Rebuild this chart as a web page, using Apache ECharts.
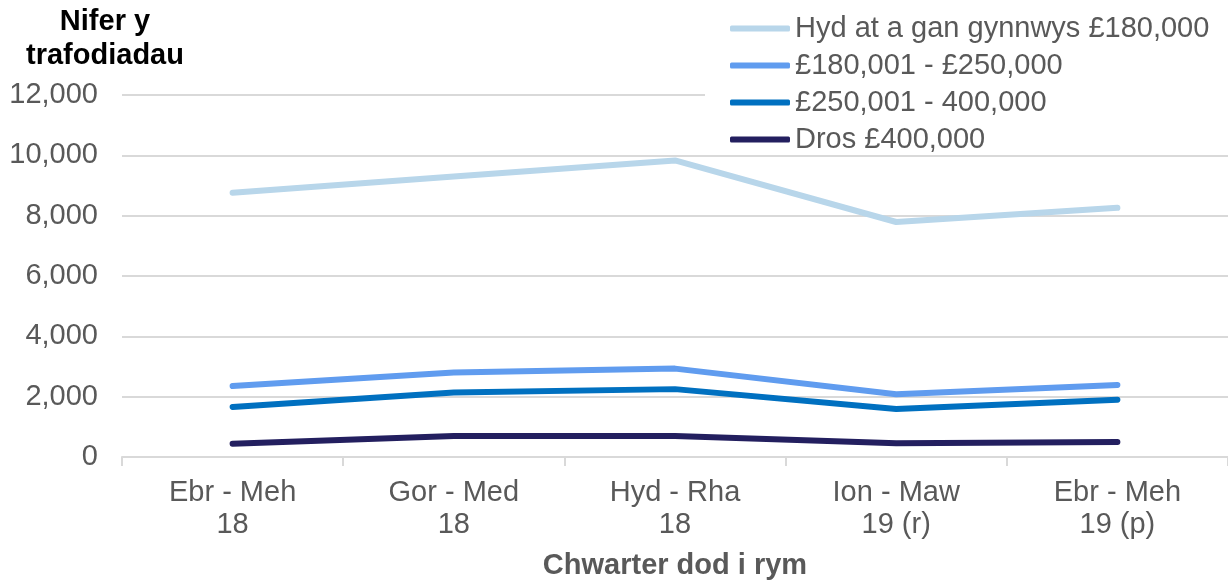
<!DOCTYPE html>
<html>
<head>
<meta charset="utf-8">
<script src="https://cdn.jsdelivr.net/npm/echarts@6/dist/echarts.min.js"></script>
<style>
  html, body { margin: 0; padding: 0; background: #fff; }
  #chart { width: 1228px; height: 582px; }
</style>
</head>
<body>
<div id="chart"></div>
<script>
// chwarteri
var quarters = ['Ebr - Meh\n18', 'Gor - Med\n18', 'Hyd - Rha\n18', 'Ion - Maw\n19 (r)', 'Ebr - Meh\n19 (p)'];
var seriesNames = ['Hyd at a gan gynnwys £180,000', '£180,001 - £250,000', '£250,001 - 400,000', 'Dros £400,000'];
var upTo180k = [8760, 9300, 9830, 7790, 8260];
var band180to250k = [2350, 2800, 2930, 2080, 2390];
var band250to400k = [1660, 2140, 2250, 1590, 1900];
var over400k = [440, 700, 700, 455, 500];
var yTicks = [0, 2000, 4000, 6000, 8000, 10000, 12000];

var colors = ['#b8d6ea', '#609cef', '#0070c0', '#231f5f'];
var font = 'Liberation Sans, Arial, sans-serif';

function mkLine(name, data) {
    return {
        name: name,
        type: 'line',
        data: data,
        symbol: 'none',
        lineStyle: { width: 6, cap: 'round', join: 'round' },
        z: 2
    };
}

var chart = echarts.init(document.getElementById('chart'));
chart.setOption({
    animation: false,
    color: colors,
    textStyle: { fontFamily: font },
    title: {
        text: 'Nifer y\ntrafodiadau',
        left: 100,
        top: 0,
        textAlign: 'center',
        textStyle: { fontFamily: font, fontSize: 29, fontWeight: 'bold', color: '#000', lineHeight: 34 }
    },
    legend: {
        orient: 'vertical',
        left: 705,
        top: 0,
        padding: [14, 30, 0, 25],
        backgroundColor: '#fff',
        z: 10,
        icon: 'roundRect',
        itemWidth: 60,
        itemHeight: 6,
        itemGap: 8,
        data: seriesNames,
        textStyle: { fontFamily: font, fontSize: 29, color: '#595959', lineHeight: 29 }
    },
    grid: { left: 122, right: 0, top: 95, bottom: 125, containLabel: false, outerBoundsMode: 'none' },
    xAxis: {
        type: 'category',
        data: quarters,
        boundaryGap: true,
        name: 'Chwarter dod i rym',
        nameLocation: 'middle',
        nameGap: 94,
        nameTextStyle: { fontFamily: font, fontSize: 29, fontWeight: 'bold', color: '#595959' },
        axisLine: { lineStyle: { color: '#d9d9d9', width: 2 } },
        axisTick: { show: true, length: 9, lineStyle: { color: '#d9d9d9', width: 2 } },
        axisLabel: { interval: 0, fontSize: 29, color: '#595959', lineHeight: 32, margin: 20 }
    },
    yAxis: {
        type: 'value',
        min: yTicks[0],
        max: yTicks[yTicks.length - 1],
        interval: 2000,
        axisLine: { show: false },
        axisTick: { show: false },
        axisLabel: {
            fontSize: 29,
            color: '#595959',
            margin: 24,
            formatter: function (v) { return v.toLocaleString('en-GB'); }
        },
        splitLine: { lineStyle: { color: '#d9d9d9', width: 2 } }
    },
    series: [
        mkLine(seriesNames[0], upTo180k),
        mkLine(seriesNames[1], band180to250k),
        mkLine(seriesNames[2], band250to400k),
        mkLine(seriesNames[3], over400k)
    ]
});
</script>
</body>
</html>
